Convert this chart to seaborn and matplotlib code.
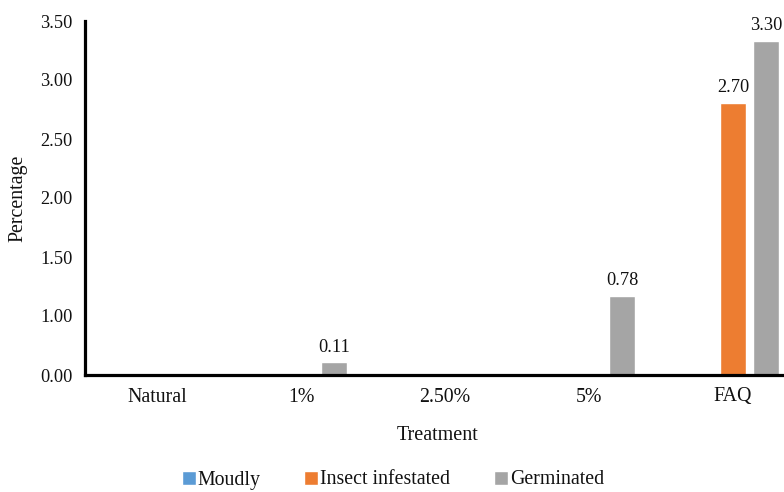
import pandas as pd
import seaborn as sns
import matplotlib.pyplot as plt

# values (bar heights in axis units, labels as printed)
treatments = ["Natural", "1%", "2.50%", "5%", "FAQ"]
series = ["Moudly", "Insect infestated", "Germinated"]
moudly = [0, 0, 0, 0, 0]
insect = [0, 0, 0, 0, 2.305]
germinated = [0, 0.106, 0, 0.67, 2.83]
insect_labels = ["", "", "", "", "2.70"]
germ_labels = ["", "0.11", "", "0.78", "3.30"]
ytick_vals = [0, 0.5, 1.0, 1.5, 2.0, 2.5, 3.0]
ytick_labels = ["0.00", "1.00", "1.50", "2.00", "2.50", "3.00", "3.50"]
colors = ["#5B9BD5", "#ED7D31", "#A5A5A5"]

df = pd.DataFrame({
    "Treatment": treatments * 3,
    "Series": [s for s in series for _ in treatments],
    "Value": moudly + insect + germinated,
})

sns.set_style("white")
plt.rcParams["font.family"] = ["Liberation Serif", "DejaVu Serif"]
txt = "#111111"

fig = plt.figure(figsize=(7.84, 4.92), dpi=100)
ax = fig.add_axes([85 / 784, 117 / 492, 720 / 784, 354 / 492])

sns.barplot(data=df, x="Treatment", y="Value", hue="Series", order=treatments,
            hue_order=series, palette=colors, width=0.69, gap=0.23,
            saturation=1, ax=ax)

labels = [[""] * 5, insect_labels, germ_labels]
for cont, lab in zip(ax.containers, labels):
    ax.bar_label(cont, labels=lab, padding=5, fontsize=13.2, color=txt)

ax.set_xlim(-0.5, 4.5)
ax.set_ylim(0, 3.0)
ax.set_yticks(ytick_vals)
ax.set_yticklabels(ytick_labels)
ax.tick_params(axis="both", length=0, colors=txt)
ax.tick_params(axis="y", pad=9, labelsize=13.2)
ax.tick_params(axis="x", pad=9, labelsize=14.3)

for s in ["top", "right"]:
    ax.spines[s].set_visible(False)
for s in ["left", "bottom"]:
    ax.spines[s].set_linewidth(2.3)
    ax.spines[s].set_color("black")
    ax.spines[s].set_capstyle("projecting")

ax.set_xlabel("")
ax.set_ylabel("")
fig.text(18 / 784, 1 - 198 / 492, "Percentage", rotation=90, ha="center",
         va="center", fontsize=14.3, color=txt)
fig.text(438 / 784, 1 - 436 / 492, "Treatment", ha="center", va="center",
         fontsize=14.5, color=txt)

ax.legend(loc="center", bbox_to_anchor=(393 / 784, 1 - 480 / 492),
          bbox_transform=fig.transFigure, ncol=3, frameon=False, fontsize=14.3,
          handlelength=0.7, handleheight=0.7, handletextpad=0.1,
          columnspacing=2.2, labelcolor=txt)

fig.savefig("out.png", dpi=100)
